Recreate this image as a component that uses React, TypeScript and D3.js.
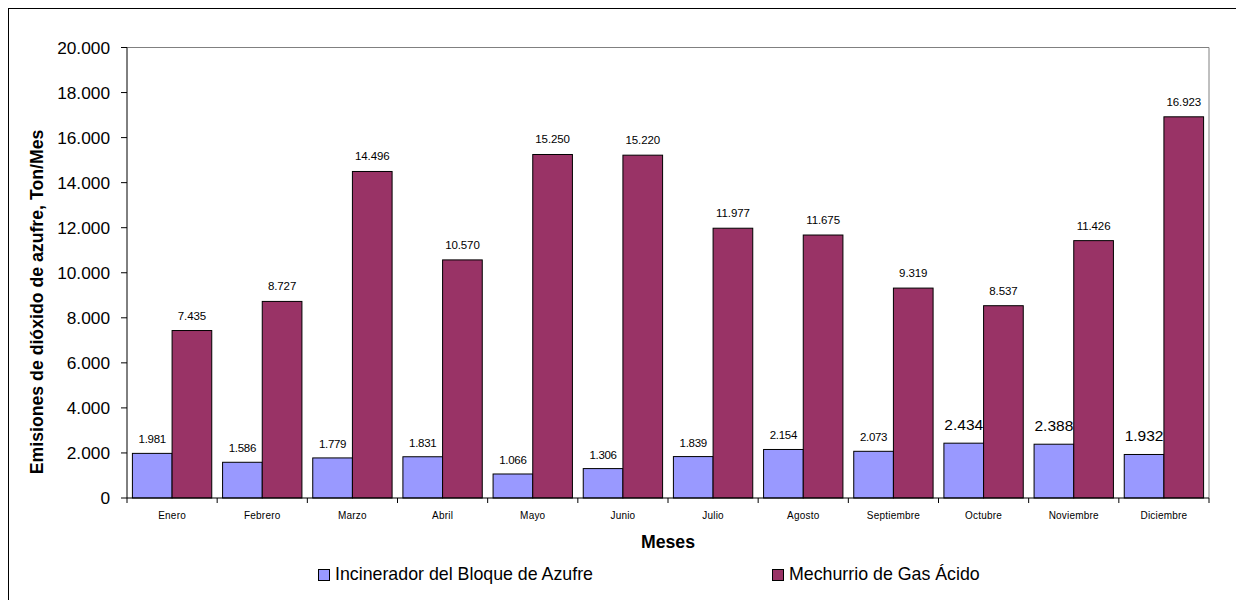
import React from "react";
import * as d3 from "d3";

const months = ["Enero","Febrero","Marzo","Abril","Mayo","Junio","Julio","Agosto","Septiembre","Octubre","Noviembre","Diciembre"];
const incinerador = [1981,1586,1779,1831,1066,1306,1839,2154,2073,2434,2388,1932];
const mechurrio = [7435,8727,14496,10570,15250,15220,11977,11675,9319,8537,11426,16923];
const yTicks = [0,2000,4000,6000,8000,10000,12000,14000,16000,18000,20000];
const largeLabelMonths = ["Octubre","Noviembre","Diciembre"];
const seriesNames = ["Incinerador del Bloque de Azufre","Mechurrio de Gas Ácido"];
const colors = ["#9999FF","#993366"];

const fmt = (v: number) => {
  if (v === 0) return "0";
  const s = String(Math.round(v));
  return s.replace(/\B(?=(\d{3})+(?!\d))/g, ".");
};

export default function App() {
  const W = 1236, H = 600;
  const left = 127, right = 1209, top = 47.5, bottom = 498;
  const font = "'Liberation Sans', Arial, sans-serif";
  const x = d3.scaleBand<string>().domain(months).range([left, right]).paddingInner(0.12).paddingOuter(0.06);
  const y = d3.scaleLinear().domain([0, 20000]).range([bottom, top]);
  const bw = x.bandwidth() / 2;
  const step = x.step();
  return (
    <svg width={W} height={H} style={{ position: "absolute", left: 0, top: 0 }} fontFamily={font}>
      <rect x={0} y={0} width={W} height={H} fill="#fff" />
      <rect x={8.5} y={8.5} width={1240} height={600} fill="none" stroke="#000" strokeWidth={1} />
      {/* plot frame */}
      <line x1={left} x2={right} y1={top} y2={top} stroke="#808080" />
      <line x1={right} x2={right} y1={top} y2={bottom} stroke="#808080" />
      {/* bars */}
      {months.map((m, i) => {
        const x0 = x(m)!;
        const isLarge = largeLabelMonths.includes(m);
        return (
          <g key={m}>
            <rect x={x0} y={y(incinerador[i])} width={bw} height={bottom - y(incinerador[i])} fill={colors[0]} stroke="#000" strokeWidth={1} />
            <rect x={x0 + bw} y={y(mechurrio[i])} width={bw} height={bottom - y(mechurrio[i])} fill={colors[1]} stroke="#000" strokeWidth={1} />
            <text x={x0 + bw / 2} y={y(incinerador[i]) - (isLarge ? 13 : 10)} textAnchor="middle" fontSize={isLarge ? 15.5 : 11.5} fill="#000" letterSpacing={isLarge ? 0 : -0.3}>{fmt(incinerador[i])}</text>
            <text x={x0 + bw * 1.5} y={y(mechurrio[i]) - 11} textAnchor="middle" fontSize={11.5} fill="#000" letterSpacing={-0.1}>{fmt(mechurrio[i])}</text>
            <text x={x0 + bw} y={519} textAnchor="middle" fontSize={10} fill="#000" letterSpacing={0.2}>{m}</text>
          </g>
        );
      })}
      {/* y axis */}
      <line x1={left} x2={left} y1={top} y2={bottom} stroke="#000" />
      {yTicks.map(t => (
        <g key={t}>
          <line x1={left - 6} x2={left} y1={y(t)} y2={y(t)} stroke="#000" />
          <text x={110} y={y(t) + 6} textAnchor="end" fontSize={17.3} fill="#000">{fmt(t)}</text>
        </g>
      ))}
      {/* x axis */}
      <line x1={left} x2={right} y1={bottom} y2={bottom} stroke="#000" />
      {d3.range(months.length + 1).map(k => (
        <line key={k} x1={left + k * step} x2={left + k * step} y1={bottom} y2={bottom + 5} stroke="#000" />
      ))}
      {/* titles */}
      <text x={(left + right) / 2} y={548} textAnchor="middle" fontSize={17.7} fontWeight="bold" fill="#000">Meses</text>
      <text transform={`translate(43,302) rotate(-90)`} textAnchor="middle" fontSize={17.7} fontWeight="bold" fill="#000">Emisiones de dióxido de azufre, Ton/Mes</text>
      {/* legend */}
      <rect x={318.5} y={569.5} width={11} height={11} fill={colors[0]} stroke="#000" />
      <text x={335} y={580} fontSize={17.8} fill="#000">{seriesNames[0]}</text>
      <rect x={772.5} y={569.5} width={11} height={11} fill={colors[1]} stroke="#000" />
      <text x={789} y={580} fontSize={17.8} fill="#000">{seriesNames[1]}</text>
    </svg>
  );
}
